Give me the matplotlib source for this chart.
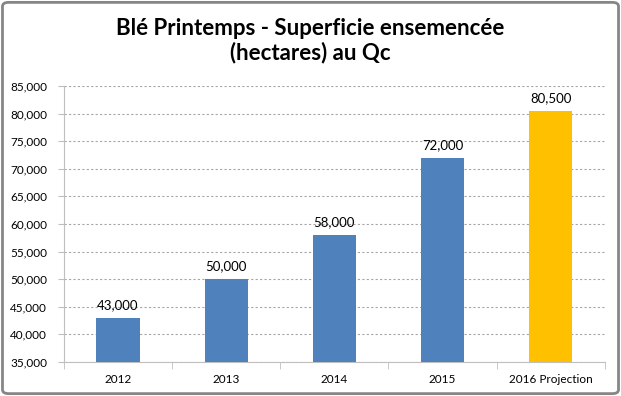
import matplotlib
matplotlib.use("Agg")
from matplotlib import pyplot as plt
from matplotlib.patches import FancyBboxPatch

categories = ["2012", "2013", "2014", "2015", "2016 Projection"]
values = [43000, 50000, 58000, 72000, 80500]
colors = ["#4F81BD", "#4F81BD", "#4F81BD", "#4F81BD", "#FFC000"]
yticks = list(range(35000, 85001, 5000))

plt.rcParams["font.family"] = ["Lato", "DejaVu Sans"]

fig = plt.figure(figsize=(6.21, 3.96), dpi=100)
# chart border
fig.patches.append(FancyBboxPatch((0.004, 0.006), 0.992, 0.988,
                                  boxstyle="round,pad=0,rounding_size=0.01",
                                  transform=fig.transFigure, fill=False,
                                  edgecolor="#868686", linewidth=2))

ax = fig.add_axes([0.103, 0.086, 0.871, 0.697])
x = range(len(categories))
ax.bar(x, values, width=0.40, color=colors, bottom=0, zorder=3)
ax.set_ylim(35000, 85000)
ax.set_xlim(-0.5, len(categories) - 0.5)
ax.set_yticks(yticks)
ax.set_yticklabels(["{:,}".format(v) for v in yticks], fontsize=8.5)
ax.set_xticks(list(x))
ax.set_xticklabels(categories, fontsize=8.5)
ax.tick_params(axis="x", length=0, pad=9)
ax.tick_params(axis="y", length=4, color="#bfbfbf", pad=8)
ax.set_xticks([i + 0.5 for i in range(-1, len(categories))], minor=True)
ax.tick_params(axis="x", which="minor", length=5, color="#bfbfbf")
ax.grid(axis="y", color="#a6a6a6", linestyle=(0, (2, 2)), linewidth=0.8, zorder=0)
for s in ["top", "right"]:
    ax.spines[s].set_visible(False)
ax.spines["left"].set_color("#bfbfbf")
ax.spines["bottom"].set_color("#bfbfbf")

for i, v in enumerate(values):
    ax.annotate("{:,}".format(v), (i, v), xytext=(0, 5), textcoords="offset points",
                ha="center", va="bottom", fontsize=9.5)

fig.text(0.5, 0.897, "Blé Printemps - Superficie ensemencée\n(hectares) au Qc",
         ha="center", va="center", fontsize=16, fontweight="bold", linespacing=1.15)

fig.savefig("out.png", dpi=100)
